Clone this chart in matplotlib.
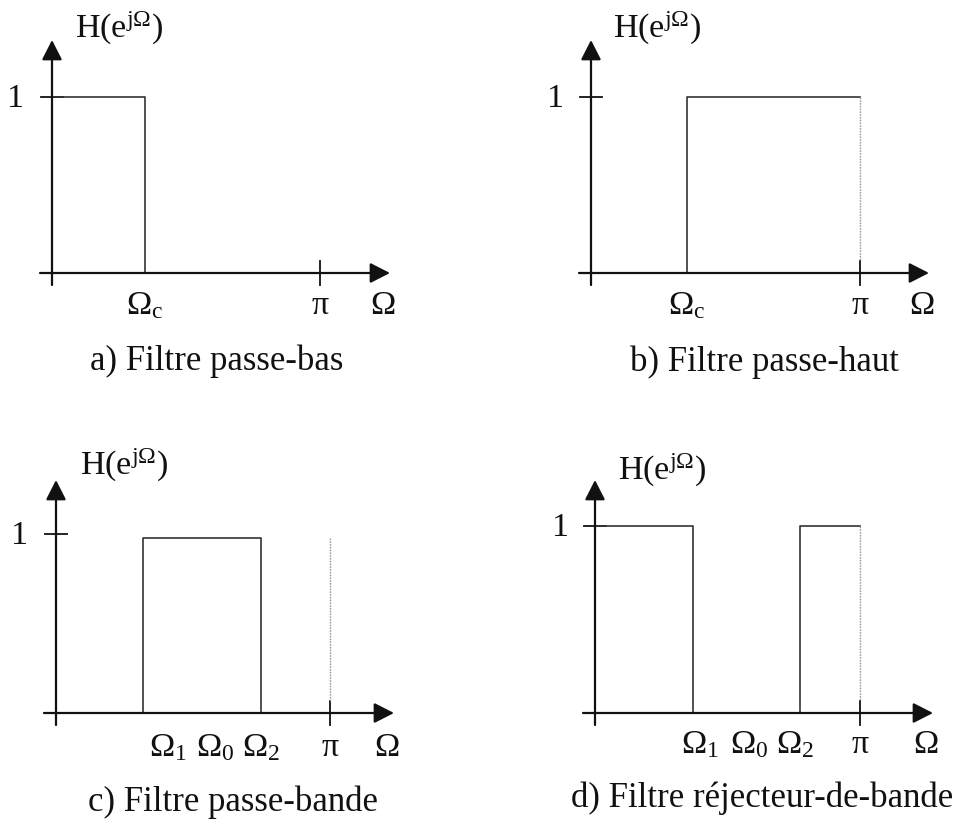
import numpy as np
import matplotlib
matplotlib.use("Agg")
import matplotlib.pyplot as plt

plt.rcParams["font.family"] = ["Liberation Serif", "DejaVu Serif"]
plt.rcParams["mathtext.fontset"] = "custom"
plt.rcParams["mathtext.rm"] = "Liberation Serif"
plt.rcParams["mathtext.it"] = "Liberation Serif:italic"
plt.rcParams["mathtext.bf"] = "Liberation Serif:bold"

W, H = 960, 821

# Ideal filter responses: frequencies in multiples of pi, gain levels
lowpass_bands = [(0.0, 0.347)]
lowpass_gain = [1.0]
lowpass_ticks = [0.347]
lowpass_ticklabels = [r"$\Omega_{\mathrm{c}}$"]

highpass_bands = [(0.357, 1.0)]
highpass_gain = [1.0]
highpass_ticks = [0.357]
highpass_ticklabels = [r"$\Omega_{\mathrm{c}}$"]

bandpass_bands = [(0.318, 0.748)]
bandpass_gain = [0.978]
bandpass_ticks = [0.41, 0.58, 0.75]
bandpass_ticklabels = [r"$\Omega_1$", r"$\Omega_0$", r"$\Omega_2$"]

bandstop_bands = [(0.0, 0.37), (0.774, 1.0)]
bandstop_gain = [1.0, 1.0]
bandstop_ticks = [0.396, 0.58, 0.754]
bandstop_ticklabels = [r"$\Omega_1$", r"$\Omega_0$", r"$\Omega_2$"]

titles = ["a) Filtre passe-bas", "b) Filtre passe-haut",
          "c) Filtre passe-bande", "d) Filtre réjecteur-de-bande"]

AX_C = "#111111"
BOX_C = "#333333"
FS = 24.5
TFS = 25

fig = plt.figure(figsize=(W / 100, H / 100), dpi=100)
fig.patch.set_facecolor("white")


def panel(x0, y0, px_pi, px_unit, bands, gains, ticks, ticklabels, title,
          title_dx, title_dy, lab_dy, one_dx, hlab_dx, hlab_dy,
          pi_guide, guide_level):
    """Draw one response diagram; origin at pixel (x0, y0)."""
    ax = fig.add_axes([0, 0, 1, 1])
    ax.set_axis_off()
    ax.patch.set_alpha(0)
    ax.set_xlim(-x0 / px_pi, (W - x0) / px_pi)
    ax.set_ylim(-(H - y0) / px_unit, y0 / px_unit)

    def px(dx):
        return dx / px_pi

    def py(dy):
        return dy / px_unit

    # axes with arrows
    ax.annotate("", xy=(px(338), 0), xytext=(px(-12), 0),
                arrowprops=dict(arrowstyle="-|>,head_length=0.55,head_width=0.28",
                                lw=1.6, color=AX_C, mutation_scale=22,
                                shrinkA=0, shrinkB=0))
    ax.annotate("", xy=(0, py(233)), xytext=(0, py(-12)),
                arrowprops=dict(arrowstyle="-|>,head_length=0.55,head_width=0.28",
                                lw=1.6, color=AX_C, mutation_scale=22,
                                shrinkA=0, shrinkB=0))
    # tick at gain 1 and at pi
    ax.plot([px(-11), px(11)], [1, 1], color=AX_C, lw=1.3)
    ax.plot([1, 1], [py(-12), py(12)], color=AX_C, lw=1.3)

    # pass bands
    for (a, b), g in zip(bands, gains):
        if b >= 1.0:
            ax.plot([a, a, b], [0, g, g], color=BOX_C, lw=1.2)
        else:
            ax.plot([a, a, b, b], [0, g, g, 0], color=BOX_C, lw=1.2)
    if pi_guide:
        ax.plot([1, 1], [guide_level, py(12)], color="#9a9a9a", lw=1.0,
                linestyle=(0, (1.2, 0.8)))

    # labels
    ax.text(px(one_dx), 1 - py(2), "1", fontsize=FS, ha="center",
            va="center", color=AX_C)
    ax.text(px(hlab_dx), py(hlab_dy), r"H(e$^{\mathrm{j}\Omega}$)",
            fontsize=FS, ha="left", va="center", color=AX_C)
    for t, lab in zip(ticks, ticklabels):
        ax.text(t, py(-lab_dy), lab, fontsize=FS, ha="center", va="center",
                color=AX_C)
    ax.text(1, py(-lab_dy), "π", fontsize=FS, ha="center", va="center",
            color=AX_C)
    ax.text(px(331), py(-lab_dy), r"$\Omega$", fontsize=FS, ha="center",
            va="center", color=AX_C)
    ax.text(px(title_dx), py(-title_dy), title, fontsize=TFS, ha="center",
            va="center", color=AX_C)
    return ax


panel(52, 273, 268, 176, lowpass_bands, lowpass_gain, lowpass_ticks,
      lowpass_ticklabels, titles[0], 165, 88, 33, -37, 23, 245, False, 1.0)
panel(591, 273, 269, 176, highpass_bands, highpass_gain, highpass_ticks,
      highpass_ticklabels, titles[1], 174, 89, 33, -36, 22, 245, True, 1.0)
panel(56, 713, 274, 179, bandpass_bands, bandpass_gain, bandpass_ticks,
      bandpass_ticklabels, titles[2], 177, 89, 35, -36, 24, 248, True, 0.978)
panel(595, 713, 265, 187, bandstop_bands, bandstop_gain, bandstop_ticks,
      bandstop_ticklabels, titles[3], 167, 85, 32, -35, 23, 243, True, 1.0)

fig.savefig("out.png", dpi=100, facecolor="white")
